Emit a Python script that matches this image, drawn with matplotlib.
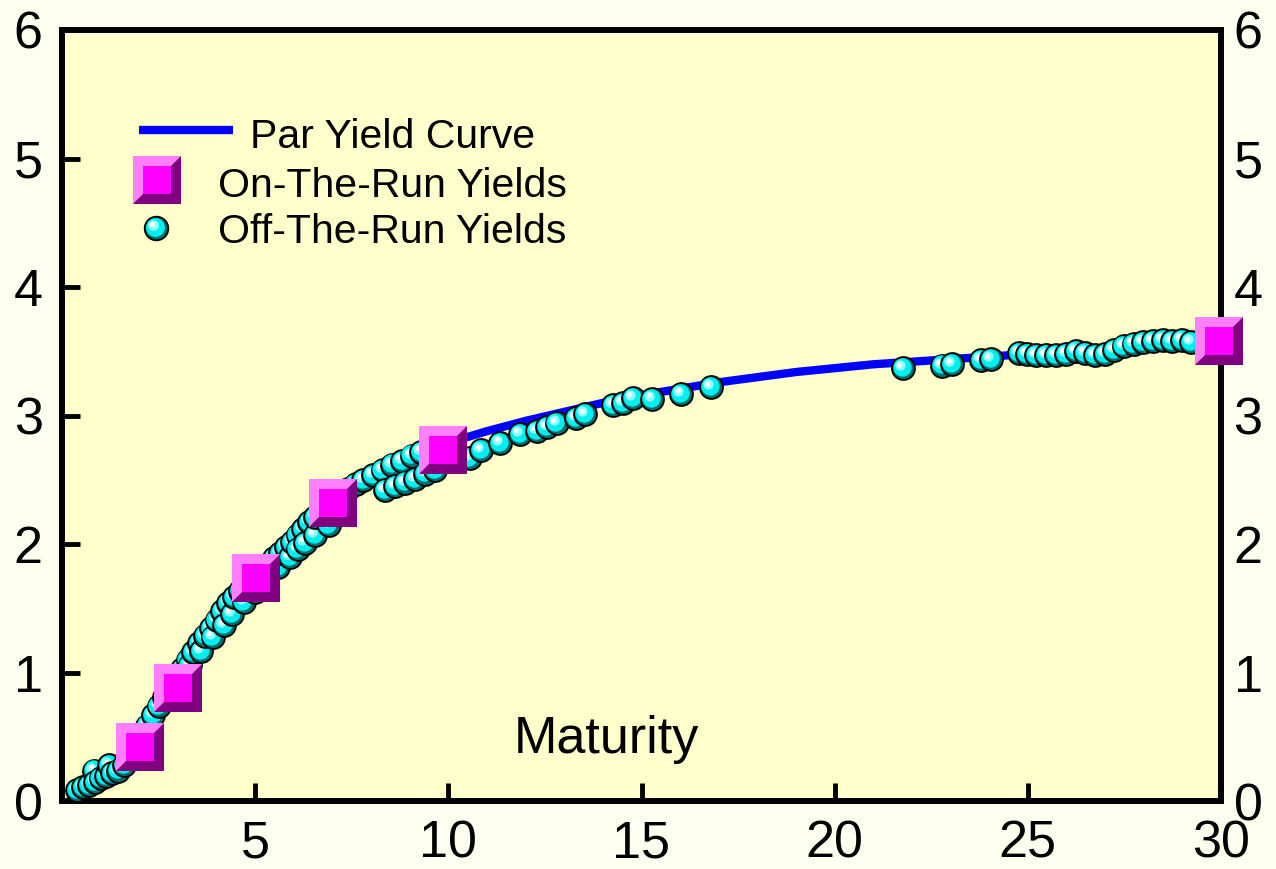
import matplotlib
matplotlib.use('Agg')
import matplotlib.pyplot as plt
from matplotlib.transforms import offset_copy

# par yield curve (maturity in years, yield in %)
par_mat = [0.3, 0.5, 1, 1.5, 2, 2.5, 3, 3.5, 4, 4.5, 5, 5.5, 6, 6.5, 7, 7.5, 8, 8.5, 9, 9.5, 10,
           11, 12, 13, 14, 15, 16, 17, 18, 19, 20, 21, 22, 23, 24, 26, 28, 30]
par_yld = [0.07, 0.10, 0.17, 0.27, 0.47, 0.70, 0.95, 1.18, 1.40, 1.59, 1.76, 1.91, 2.06, 2.20, 2.33, 2.44, 2.53, 2.61, 2.68, 2.74, 2.79,
           2.88, 2.96, 3.03, 3.10, 3.16, 3.21, 3.26, 3.30, 3.34, 3.37, 3.40, 3.42, 3.44, 3.46, 3.50, 3.54, 3.58]

# on-the-run issues
on_mat = [2.03, 3.0, 5.03, 7.02, 9.86, 29.95]
on_yld = [0.42, 0.88, 1.74, 2.32, 2.73, 3.58]

# off-the-run issues
off_mat = [0.40, 0.55, 0.70, 0.84, 0.85, 1.00, 1.15, 1.22, 1.30, 1.45, 1.60, 1.75, 1.90, 2.05, 2.20,
           2.35, 2.50, 2.65, 2.80, 2.95, 3.10, 3.25, 3.30, 3.40, 3.55, 3.60, 3.70, 3.85, 3.90, 4.00,
           4.15, 4.20, 4.30, 4.40, 4.45, 4.60, 4.70, 4.75, 4.90, 5.00, 5.05, 5.20, 5.30, 5.35, 5.50,
           5.60, 5.65, 5.80, 5.90, 5.95, 6.10, 6.10, 6.25, 6.30, 6.40, 6.55, 6.55, 6.70, 6.85, 6.90,
           7.00, 7.20, 7.40, 7.60, 7.80, 8.05, 8.30, 8.36, 8.55, 8.62, 8.80, 8.88, 9.05, 9.14, 9.30,
           9.40, 9.55, 9.65, 10.55, 10.85, 11.35, 11.85, 12.30, 12.55, 12.80, 13.30, 13.55, 14.27, 14.52,
           14.78, 15.28, 16.03, 16.80, 21.77, 22.78, 23.04, 23.79, 24.04, 24.77, 24.98, 25.21, 25.47,
           25.73, 25.99, 26.24, 26.48, 26.74, 26.99, 27.23, 27.48, 27.74, 27.98, 28.24, 28.50, 28.74,
           28.99, 29.22]
off_yld = [0.09, 0.11, 0.13, 0.24, 0.15, 0.18, 0.20, 0.28, 0.22, 0.24, 0.28, 0.35, 0.43, 0.51, 0.59,
           0.67, 0.74, 0.81, 0.88, 0.96, 1.03, 1.10, 1.06, 1.16, 1.23, 1.17, 1.29, 1.35, 1.28, 1.41,
           1.48, 1.37, 1.54, 1.46, 1.59, 1.64, 1.55, 1.68, 1.72, 1.63, 1.76, 1.81, 1.73, 1.85, 1.89,
           1.82, 1.93, 1.98, 1.90, 2.02, 2.07, 1.96, 2.12, 2.01, 2.17, 2.07, 2.21, 2.25, 2.29, 2.15,
           2.33, 2.38, 2.43, 2.47, 2.50, 2.54, 2.58, 2.42, 2.62, 2.45, 2.65, 2.48, 2.69, 2.51, 2.72,
           2.55, 2.75, 2.58, 2.67, 2.73, 2.79, 2.86, 2.88, 2.91, 2.94, 2.98, 3.01, 3.08, 3.10,
           3.14, 3.13, 3.17, 3.22, 3.37, 3.39, 3.40, 3.43, 3.44, 3.49, 3.48, 3.47, 3.47,
           3.47, 3.48, 3.50, 3.49, 3.47, 3.48, 3.51, 3.54, 3.56, 3.57, 3.58, 3.59, 3.58,
           3.59, 3.57]

x_ticks = [5, 10, 15, 20, 25, 30]
y_ticks = [0, 1, 2, 3, 4, 5, 6]

plt.rcParams['font.family'] = ['Liberation Sans', 'DejaVu Sans']

fig = plt.figure(figsize=(12.76, 8.69), dpi=100, facecolor='#FFFFF0')
ax = fig.add_axes([0.0486, 0.0777, 0.9083, 0.8878], facecolor='#FFFFCC')


def sphere(x, y, tr, d, z):
    # shaded ball: dark base, cyan body, light spot
    layers = [(1.0, '#006E6E', 0, 0), (0.80, '#00EEEE', -1.2, 1.2),
              (0.45, '#8FFFFF', -3.0, 3.0), (0.22, '#FFFFFF', -3.6, 3.6)]
    for k, (f, c, dx, dy) in enumerate(layers):
        t = offset_copy(tr, fig=fig, x=dx, y=dy, units='dots')
        ax.plot([x], [y], ls='none', marker='o', ms=d * f, mfc=c,
                mec='black' if k == 0 else c, mew=1.3 if k == 0 else 0,
                transform=t, zorder=z, clip_on=False)


def bevel(x, y, tr, s, z):
    # beveled square: dark lower-right, light upper-left, magenta face
    ax.plot([x], [y], ls='none', marker='s', ms=s, color='#800080', mew=0,
            transform=tr, zorder=z, clip_on=False)
    ax.plot([x], [y], ls='none', marker=[(-1, -1), (-1, 1), (1, 1)], ms=s,
            color='#FF80FF', mew=0, transform=tr, zorder=z, clip_on=False)
    ax.plot([x], [y], ls='none', marker='s', ms=s * 0.6, color='#FF00FF', mew=0,
            transform=tr, zorder=z, clip_on=False)


ax.plot(par_mat, par_yld, color='#0000FF', lw=6, solid_capstyle='butt', zorder=2)

for i, (m, v) in enumerate(zip(off_mat, off_yld)):
    sphere(m, v, ax.transData, 16.5, 3 + i * 0.001)

for m, v in zip(on_mat, on_yld):
    bevel(m, v, ax.transData, 34.5, 4)

# legend drawn by hand
ax.plot([0.0664, 0.1475], [0.8704, 0.8704], transform=ax.transAxes,
        color='#0000FF', lw=6, solid_capstyle='butt', zorder=5)
bevel(0.082, 0.8055, ax.transAxes, 34.5, 5)
sphere(0.0811, 0.7434, ax.transAxes, 17, 5)
ax.text(0.1622, 0.847, 'Par Yield Curve', transform=ax.transAxes, fontsize=29.5, va='baseline')
ax.text(0.1345, 0.7835, 'On-The-Run Yields', transform=ax.transAxes, fontsize=29.5, va='baseline')
ax.text(0.1345, 0.724, 'Off-The-Run Yields', transform=ax.transAxes, fontsize=29.5, va='baseline')

ax.text(0.470, 0.0629, 'Maturity', transform=ax.transAxes, fontsize=37.5,
        ha='center', va='baseline')

ax.set_xlim(0, 30)
ax.set_ylim(0, 6)
ax.set_xticks(x_ticks)
ax.set_yticks(y_ticks)
for s in ax.spines.values():
    s.set_linewidth(4.3)
ax.tick_params(axis='both', direction='in', width=3.5, length=13, labelsize=37.5)
ax.tick_params(axis='x', top=False, pad=13)
ax.tick_params(axis='y', right=True, pad=14)

# right-hand labels with their own padding
ax2 = ax.twinx()
ax2.set_ylim(0, 6)
ax2.set_yticks(y_ticks)
ax2.tick_params(axis='y', length=0, labelsize=37.5, pad=9)
ax2.patch.set_visible(False)
for s in ax2.spines.values():
    s.set_visible(False)

fig.savefig('out.png', dpi=100, facecolor=fig.get_facecolor())
